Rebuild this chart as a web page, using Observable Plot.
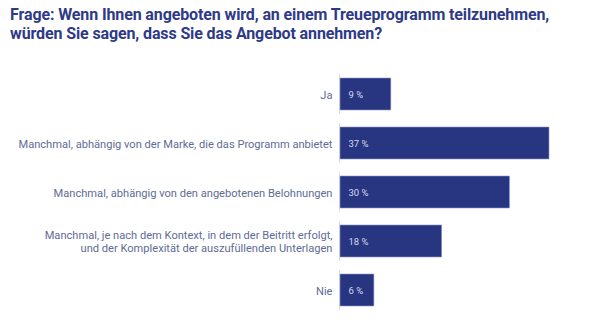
<!DOCTYPE html>
<html><head><meta charset="utf-8">
<script src="https://cdn.jsdelivr.net/npm/d3@7"></script>
<script src="https://cdn.jsdelivr.net/npm/@observablehq/plot@0.6"></script>
<style>
body{margin:0;background:#fff;font-family:Roboto,sans-serif;}
#title{position:absolute;left:10px;top:5px;width:590px;font-family:Roboto,sans-serif;font-weight:700;font-size:16px;line-height:19px;color:#2e3a87;letter-spacing:-0.12px;}
#chart{position:absolute;left:0;top:50px;}
</style></head><body>
<div id="title">Frage: Wenn Ihnen angeboten wird, an einem Treueprogramm teilzunehmen,<br>würden Sie sagen, dass Sie das Angebot annehmen?</div>
<div id="chart"></div>
<script>
const categories = [
  "Ja",
  "Manchmal, abhängig von der Marke, die das Programm anbietet",
  "Manchmal, abhängig von den angebotenen Belohnungen",
  "Manchmal, je nach dem Kontext, in dem der Beitritt erfolgt,\nund der Komplexität der auszufüllenden Unterlagen",
  "Nie"
];
const values = [9, 37, 30, 18, 6];
const data = categories.map((c, i) => ({cat: c, v: values[i]}));

const chart = Plot.plot({
  width: 600,
  height: 285,
  marginLeft: 340,
  marginRight: 51,
  marginTop: 10,
  marginBottom: 11,
  x: {domain: [0, 37], axis: null},
  y: {domain: categories, padding: 0.35, axis: null},
  style: {fontFamily: "Roboto, sans-serif", background: "#fff"},
  marks: [
    Plot.tickX(data, {x: 0, y: "cat", stroke: "#dcdcdc", strokeWidth: 1, dx: -1, insetTop: -4, insetBottom: -4}),
    Plot.barX(data, {x: "v", y: "cat", fill: "#283580", stroke: "#8f97c8", strokeWidth: 0.6}),
    Plot.text(data, {x: 0, y: "cat", text: "cat", dx: -8, textAnchor: "end", fill: "#606c96", fontSize: 11.1, lineHeight: 1.18, fontWeight: 400}),
    Plot.text(data, {x: 0, y: "cat", text: d => d.v + " %", dx: 8, textAnchor: "start", fill: "#d6daf0", fontSize: 9.5})
  ]
});
document.getElementById("chart").appendChild(chart);
</script>
</body></html>
